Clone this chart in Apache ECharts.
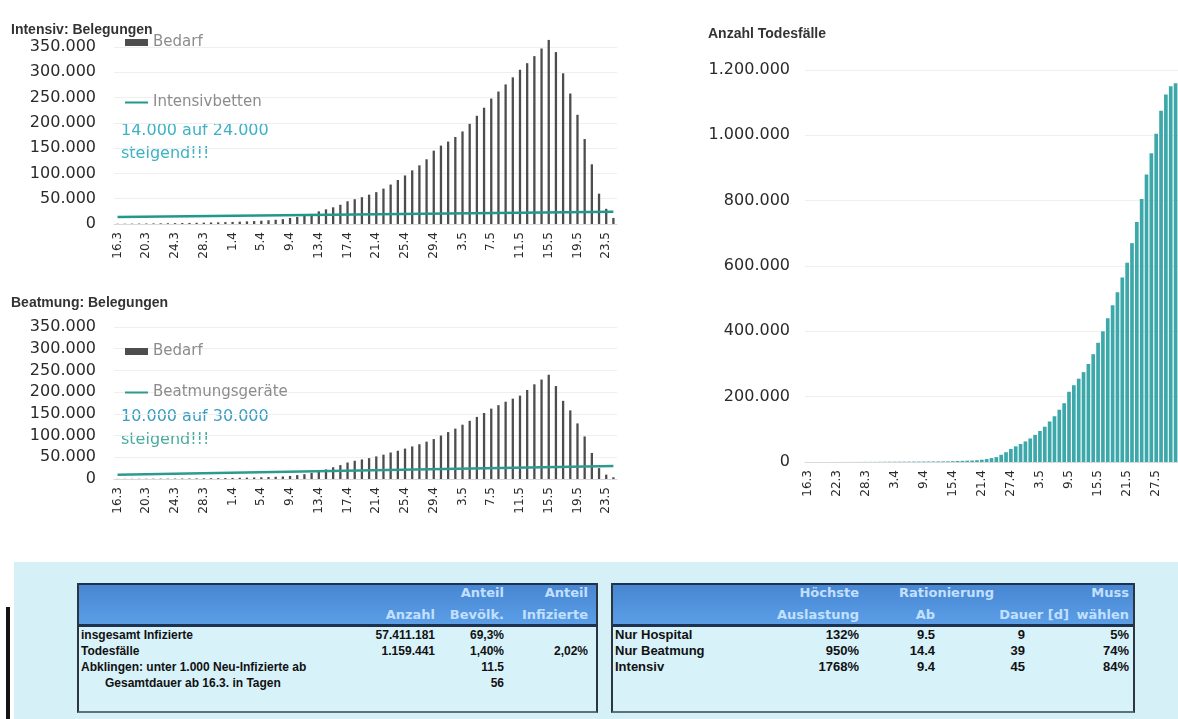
<!DOCTYPE html>
<html>
<head>
<meta charset="utf-8">
<script src="https://cdn.jsdelivr.net/npm/echarts@6/dist/echarts.min.js"></script>
<style>
  html, body { margin: 0; padding: 0; background: #ffffff; }
  body { width: 1178px; height: 719px; position: relative; overflow: hidden; font-family: 'Liberation Sans', Arial, sans-serif; }
  #band { position: absolute; left: 14px; top: 562px; width: 1164px; height: 157px; background: #d5f0f7; z-index: 0; }
  #bar-left { position: absolute; left: 6px; top: 607px; width: 4px; height: 112px; background: #141414; z-index: 3; }
  #chart { position: absolute; left: 0; top: 0; width: 1178px; height: 719px; z-index: 1; }
  .tab { position: absolute; background: #d8f2fa; border-left: 2px solid #2a3642; border-right: 2px solid #2a3642; border-bottom: 2px solid #5d7280; box-sizing: border-box; z-index: 2; }
  .kopf { position: absolute; left: 0; right: 0; top: 0; height: 44px; background: linear-gradient(#4886d2, #5b9ee6); border-top: 2px solid #1c3250; border-bottom: 3px solid #1c3250; box-sizing: border-box; }
  .zelle { position: absolute; white-space: nowrap; font-size: 12px; line-height: 16px; }
  .kz { color: #c2e0ff; font-family: 'DejaVu Sans', sans-serif; font-weight: bold; font-size: 13px; }
  .bz { color: #111111; font-weight: bold; }
  #tab-rechts .bz { font-size: 13px; }
</style>
</head>
<body>
<div id="band"></div>
<div id="bar-left"></div>
<div id="chart"></div>
<div id="tab-links" class="tab" style="left:77px; top:583px; width:521px; height:130px;"></div>
<div id="tab-rechts" class="tab" style="left:611px; top:583px; width:524px; height:130px;"></div>
<script>
// Tage ab 16.3. (März bis Mai)
const tage = [
  '16.3','17.3','18.3','19.3','20.3','21.3','22.3','23.3','24.3','25.3','26.3','27.3','28.3','29.3','30.3','31.3',
  '1.4','2.4','3.4','4.4','5.4','6.4','7.4','8.4','9.4','10.4','11.4','12.4','13.4','14.4','15.4','16.4','17.4','18.4','19.4','20.4',
  '21.4','22.4','23.4','24.4','25.4','26.4','27.4','28.4','29.4','30.4',
  '1.5','2.5','3.5','4.5','5.5','6.5','7.5','8.5','9.5','10.5','11.5','12.5','13.5','14.5','15.5','16.5','17.5','18.5','19.5','20.5',
  '21.5','22.5','23.5','24.5','25.5','26.5','27.5','28.5','29.5','30.5','31.5'
];
// Belegungs-Diagramme laufen bis 24.5.
const tageBelegung = tage.slice(0, 70);

// Intensiv: Bedarf an Betten
const intensivBedarf = [
  500, 600, 700, 800, 1000, 1100, 1300, 1500, 1700, 1900, 2100, 2400, 2700, 3000, 3300, 3700,
  4100, 4600, 5200, 5800, 6500, 7400, 8400, 9600,
  12000, 14000, 17000, 20000, 25000, 29000, 33000, 38000,
  45000, 49000, 53000, 58000, 63000, 70000, 78000, 87000,
  96000, 106000, 116000, 128000, 145000, 155000, 163000, 172000,
  183000, 198000, 214000, 230000, 248000, 262000, 276000, 290000,
  305000, 318000, 332000, 347000, 364000, 340000, 298000, 258000,
  216000, 168000, 118000, 60000, 30000, 12000
];
// Intensivbetten: von 14.000 auf 24.000 steigend (Anfang, Ende)
const intensivBetten = [14000, 24000];

// Beatmung: Bedarf an Geräten
const beatmungBedarf = [
  300, 400, 400, 500, 600, 700, 800, 900, 1000, 1100, 1300, 1400, 1600, 1800, 2000, 2200,
  2500, 2800, 3100, 3500, 4000, 4500, 5100, 5800,
  7000, 9000, 11000, 14000, 18000, 22000, 27000, 32000,
  38000, 42000, 45000, 48000, 52000, 56000, 61000, 65000,
  70000, 75000, 80000, 86000, 92000, 100000, 108000, 116000,
  125000, 134000, 143000, 152000, 162000, 170000, 178000, 185000,
  192000, 205000, 218000, 229000, 240000, 214000, 180000, 158000,
  128000, 98000, 60000, 25000, 10000, 4000
];
// Beatmungsgeräte: von 10.000 auf 30.000 steigend (Anfang, Ende)
const beatmungGeraete = [10000, 30000];

// Anzahl Todesfälle (kumuliert)
const todesfaelle = [
  10, 20, 30, 40, 60, 80, 100, 130, 160, 200, 250, 300, 360, 430, 500,
  600, 700, 800, 900, 1000, 1100, 1200, 1300, 1400, 1500, 1600, 1700, 1800, 1900, 2000,
  2500, 3000, 3500, 4000, 4500, 5500, 7000, 9000, 12000, 15000,
  22000, 30000, 40000, 48000, 55000, 63000, 72000, 83000, 95000, 108000,
  124000, 140000, 160000, 180000, 215000, 235000, 255000, 275000, 300000, 330000,
  365000, 400000, 440000, 480000, 520000, 565000, 610000, 670000, 735000, 805000,
  880000, 945000, 1005000, 1075000, 1125000, 1150000, 1159441
];

// Tabellen
const kopfLinks = [['', ''], ['', 'Anzahl'], ['Anteil', 'Bevölk.'], ['Anteil', 'Infizierte']];
const zeilenLinks = [
  ['insgesamt Infizierte', '57.411.181', '69,3%', ''],
  ['Todesfälle', '1.159.441', '1,40%', '2,02%'],
  ['Abklingen: unter 1.000 Neu-Infizierte ab', '', '11.5', ''],
  ['Gesamtdauer ab 16.3. in Tagen', '', '56', '']
];
const kopfRechts = [['', ''], ['Höchste', 'Auslastung'], ['', 'Ab'], ['', 'Dauer [d]'], ['Muss', 'wählen']];
const gruppeRechts = 'Rationierung';
const zeilenRechts = [
  ['Nur Hospital', '132%', '9.5', '9', '5%'],
  ['Nur Beatmung', '950%', '14.4', '39', '74%'],
  ['Intensiv', '1768%', '9.4', '45', '84%']
];

const FONT = "'Liberation Sans', Arial, sans-serif";
const FONT_ACHSE = "'DejaVu Sans', sans-serif";

function tausender(v) {
  return String(v).replace(/\B(?=(\d{3})+(?!\d))/g, '.');
}

function zelle(parent, text, cls, x, y, rechts) {
  if (!text) return;
  const d = document.createElement('div');
  d.className = 'zelle ' + cls;
  d.textContent = text;
  d.style.top = y + 'px';
  if (rechts) { d.style.right = x + 'px'; } else { d.style.left = x + 'px'; }
  parent.appendChild(d);
}

function tabelle(id, kopf, zeilen, spaltenRechts, einzug, gruppe) {
  const el = document.getElementById(id);
  const breite = el.offsetWidth - 4;
  const k = document.createElement('div');
  k.className = 'kopf';
  el.appendChild(k);
  kopf.forEach((c, i) => {
    if (i === 0) return;
    zelle(k, c[0], 'kz', breite - spaltenRechts[i], 0, true);
    zelle(k, c[1], 'kz', breite - (c.length > 2 ? c[2] : spaltenRechts[i]), 22, true);
  });
  if (gruppe) zelle(k, gruppe.text, 'kz', gruppe.x, 0, false);
  zeilen.forEach((z, r) => {
    const y = 44 + r * 16;
    z.forEach((t, i) => {
      if (i === 0) zelle(el, t, 'bz', einzug[r] || 2, y, false);
      else zelle(el, t, 'bz', breite - spaltenRechts[i], y, true);
    });
  });
}

tabelle('tab-links', kopfLinks, zeilenLinks, [0, 356, 425, 509], [2, 2, 2, 26], null);
kopfRechts[3].push(456);
tabelle('tab-rechts', kopfRechts, zeilenRechts, [0, 246, 322, 412, 516], [2, 2, 2], { text: gruppeRechts, x: 286 });

const chart = echarts.init(document.getElementById('chart'), null, { renderer: 'canvas' });

const yLabel = { formatter: tausender, fontSize: 16, color: '#2a2a2a', fontFamily: FONT_ACHSE };
const xCat = (data, interval) => ({
  type: 'category', data: data, boundaryGap: true,
  axisTick: { show: false },
  axisLine: { lineStyle: { color: '#d9d9d9' } },
  axisLabel: { interval: interval, rotate: 90, fontSize: 12, color: '#2a2a2a', margin: 8, fontFamily: FONT_ACHSE }
});
const splitLine = { show: true, lineStyle: { color: '#efefef', width: 1 } };
const legendText = { color: '#8c8c8c', fontSize: 15, fontFamily: FONT_ACHSE };
const titleText = { fontSize: 14, fontWeight: 'bold', color: '#333', fontFamily: FONT };
const noteFont = '16px ' + FONT_ACHSE;

chart.setOption({
  animation: false,
  backgroundColor: 'transparent',
  textStyle: { fontFamily: FONT },
  title: [
    { text: 'Intensiv: Belegungen', left: 6, top: 18, textStyle: titleText },
    { text: 'Beatmung: Belegungen', left: 6, top: 291, textStyle: titleText },
    { text: 'Anzahl Todesfälle', left: 703, top: 22, textStyle: titleText }
  ],
  legend: [
    { left: 125, top: 35, padding: 0, itemWidth: 23, itemHeight: 7, textStyle: legendText,
      data: [{ name: 'Bedarf', icon: 'rect' }] },
    { left: 125, top: 95, padding: 0, itemWidth: 23, itemHeight: 2, textStyle: legendText,
      data: [{ name: 'Intensivbetten', icon: 'rect' }] },
    { left: 125, top: 344, padding: 0, itemWidth: 23, itemHeight: 7, textStyle: legendText,
      data: [{ name: 'Bedarf', icon: 'rect' }] },
    { left: 125, top: 385, padding: 0, itemWidth: 23, itemHeight: 2, textStyle: legendText,
      data: [{ name: 'Beatmungsgeräte', icon: 'rect' }] }
  ],
  graphic: [
    { type: 'text', left: 121, top: 123, style: { text: '14.000 auf 24.000', fill: '#3cb2c4', font: noteFont } },
    { type: 'text', left: 121, top: 146, style: { text: 'steigend!!!', fill: '#3cb2c4', font: noteFont } },
    { type: 'text', left: 121, top: 409, style: { text: '10.000 auf 30.000', fill: '#3a9ec2', font: noteFont } },
    { type: 'text', left: 121, top: 432, style: { text: 'steigend!!!', fill: '#48ad9e', font: noteFont } }
  ],
  grid: [
    { left: 114, top: 47, width: 503, height: 177 },
    { left: 114, top: 327, width: 503, height: 152 },
    { left: 805, top: 70, width: 382, height: 392 }
  ],
  xAxis: [
    Object.assign(xCat(tageBelegung, 3), { gridIndex: 0 }),
    Object.assign(xCat(tageBelegung, 3), { gridIndex: 1 }),
    Object.assign(xCat(tage, 5), { gridIndex: 2 })
  ],
  yAxis: [
    { type: 'value', gridIndex: 0, min: 0, max: 350000, interval: 50000, axisLabel: Object.assign({ margin: 18 }, yLabel), splitLine: splitLine, axisLine: { show: false } },
    { type: 'value', gridIndex: 1, min: 0, max: 350000, interval: 50000, axisLabel: Object.assign({ margin: 18 }, yLabel), splitLine: splitLine, axisLine: { show: false } },
    { type: 'value', gridIndex: 2, min: 0, max: 1200000, interval: 200000, axisLabel: Object.assign({ margin: 15 }, yLabel), splitLine: splitLine, axisLine: { show: false } }
  ],
  series: [
    {
      name: 'Bedarf', type: 'bar', xAxisIndex: 0, yAxisIndex: 0, data: intensivBedarf,
      barWidth: '32%', clip: false, itemStyle: { color: '#4d4d4d' }
    },
    {
      name: 'Intensivbetten', type: 'line', xAxisIndex: 0, yAxisIndex: 0, symbol: 'none',
      data: [[tageBelegung[0], intensivBetten[0]], [tageBelegung[tageBelegung.length - 1], intensivBetten[1]]],
      lineStyle: { color: '#22978b', width: 2.5 }, itemStyle: { color: '#22978b' }
    },
    {
      name: 'Bedarf', type: 'bar', xAxisIndex: 1, yAxisIndex: 1, data: beatmungBedarf,
      barWidth: '32%', itemStyle: { color: '#4d4d4d' }
    },
    {
      name: 'Beatmungsgeräte', type: 'line', xAxisIndex: 1, yAxisIndex: 1, symbol: 'none',
      data: [[tageBelegung[0], beatmungGeraete[0]], [tageBelegung[tageBelegung.length - 1], beatmungGeraete[1]]],
      lineStyle: { color: '#2e9a8f', width: 2.5 }, itemStyle: { color: '#2e9a8f' }
    },
    {
      name: 'Todesfälle', type: 'bar', xAxisIndex: 2, yAxisIndex: 2, data: todesfaelle,
      barCategoryGap: '24%', itemStyle: { color: '#3ca8aa' }
    }
  ]
});
</script>
</body>
</html>
